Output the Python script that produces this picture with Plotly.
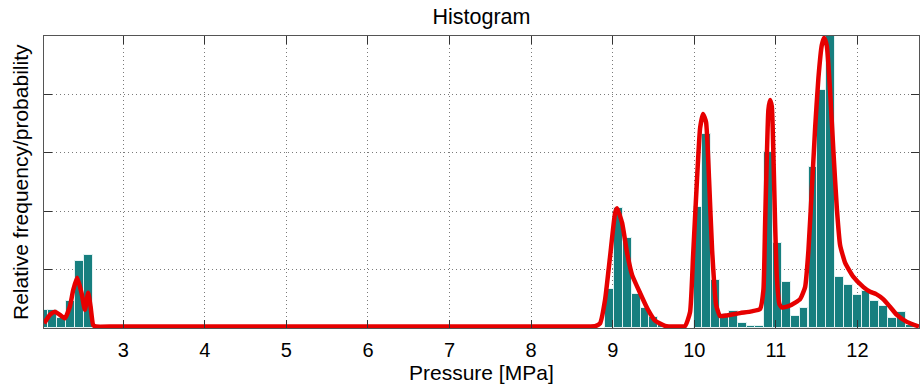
import plotly.graph_objects as go

# Histogram bins (non-empty bins only): bin centres in MPa and relative frequency
bin_centers_mpa = [2.029, 2.137, 2.246, 2.354, 2.462, 2.571,
                   8.962, 9.070, 9.179, 9.287, 9.395, 9.504, 9.612, 9.720, 9.829,
                   10.045, 10.154, 10.262, 10.370, 10.479, 10.587, 10.695, 10.804,
                   10.912, 11.020, 11.129, 11.237, 11.345, 11.454,
                   11.562, 11.670, 11.779, 11.887, 11.995, 12.104, 12.212, 12.320,
                   12.429, 12.537, 12.645, 12.754]
rel_freq = [0.0062, 0.0062, 0.0034, 0.0094, 0.0230, 0.0250,
            0.0134, 0.0410, 0.0308, 0.0118, 0.0070, 0.0036, 0.0012, 0.0006, 0.0004,
            0.0416, 0.0666, 0.0166, 0.0048, 0.0058, 0.0016, 0.0006, 0.0008,
            0.0604, 0.0290, 0.0156, 0.0040, 0.0068, 0.0552,
            0.0814, 0.1000, 0.0174, 0.0148, 0.0114, 0.0126, 0.0094, 0.0074,
            0.0034, 0.0056, 0.0010, 0.0006]
bin_width = 0.10833

# Estimated probability density (red curve)
density_x = [2.031, 2.101, 2.163, 2.224, 2.285, 2.346, 2.387, 2.436, 2.490, 2.530, 2.571, 2.600, 2.632, 2.665,
             2.900, 4.000, 6.000, 8.000, 8.600,
             8.722, 8.784, 8.845, 8.906, 8.967, 9.029, 9.053, 9.115, 9.176, 9.237, 9.335, 9.433, 9.519, 9.642, 9.764, 9.887,
             9.948, 9.985, 10.034, 10.071, 10.107, 10.144, 10.181, 10.218, 10.267, 10.316, 10.400, 10.561, 10.700, 10.806,
             10.847, 10.868, 10.889, 10.908, 10.929, 10.950, 10.970, 10.990, 11.011, 11.043, 11.076, 11.174,
             11.297, 11.358, 11.399, 11.440, 11.481, 11.521, 11.563, 11.591, 11.624, 11.665, 11.705, 11.747,
             11.787, 11.849, 11.950, 12.073, 12.155, 12.229, 12.315, 12.401, 12.483, 12.605, 12.754]
density_y = [0.0016, 0.0045, 0.0056, 0.0045, 0.0033, 0.0073, 0.0130, 0.0172, 0.0119, 0.0062, 0.0121, 0.0073, 0.0010, 0.0005,
             0.0005, 0.0005, 0.0005, 0.0005, 0.0005,
             0.0005, 0.0006, 0.0016, 0.0096, 0.0244, 0.0394, 0.0410, 0.0360, 0.0257, 0.0182, 0.0120, 0.0062, 0.0025, 0.0007, 0.0005, 0.0007,
             0.0055, 0.0247, 0.0514, 0.0685, 0.0733, 0.0705, 0.0507, 0.0267, 0.0079, 0.0041, 0.0043, 0.0051, 0.0057, 0.0065,
             0.0130, 0.0360, 0.0587, 0.0747, 0.0781, 0.0758, 0.0587, 0.0360, 0.0176, 0.0082, 0.0070, 0.0077,
             0.0099, 0.0140, 0.0267, 0.0473, 0.0685, 0.0856, 0.0969, 0.0994, 0.0966, 0.0809, 0.0604, 0.0410,
             0.0284, 0.0223, 0.0175, 0.0140, 0.0124, 0.0116, 0.0099, 0.0072, 0.0045, 0.0021, 0.0005]

x_ticks = [3, 4, 5, 6, 7, 8, 9, 10, 11, 12]

FONT = "Liberation Sans, Arial, sans-serif"

fig = go.Figure()
fig.add_trace(go.Bar(
    x=bin_centers_mpa, y=rel_freq, width=bin_width,
    marker=dict(color="#177f7f", line=dict(color="#e4f2f2", width=1)),
    showlegend=False, hoverinfo="x+y",
))
fig.add_trace(go.Scatter(
    x=density_x, y=density_y, mode="lines",
    line=dict(color="#e60000", width=4.5, shape="spline", smoothing=0.45),
    showlegend=False,
))

fig.update_layout(
    width=922, height=387,
    margin=dict(l=44, r=3, t=36, b=59),
    paper_bgcolor="white", plot_bgcolor="white",
    font=dict(family=FONT, size=20, color="black"),
    title=dict(text="Histogram", x=0.5, xref="paper", y=1 - 16 / 387, yref="container",
               xanchor="center", yanchor="middle", font=dict(family=FONT, size=21.5, color="black")),
    bargap=0,
    annotations=[
        dict(text="Pressure [MPa]", x=0.5, xref="paper", y=0, yref="paper",
             xanchor="center", yanchor="middle", yshift=-44, showarrow=False,
             font=dict(family=FONT, size=21, color="black")),
        dict(text="Relative frequency/probability", x=0, xref="paper", y=0.5, yref="paper",
             xanchor="center", yanchor="middle", xshift=-24, textangle=-90, showarrow=False,
             font=dict(family=FONT, size=21, color="black")),
    ],
)
fig.update_xaxes(
    range=[2.029, 12.754], tickvals=x_ticks, ticktext=[str(t) for t in x_ticks],
    ticks="inside", ticklen=8, tickcolor="#333333", tickwidth=1,
    showline=True, linecolor="#555555", linewidth=1, mirror="ticks",
    showgrid=True, gridcolor="#7a7a7a", griddash="1px,3px", gridwidth=1,
    zeroline=False, ticklabelstandoff=4,
    tickfont=dict(family=FONT, size=20, color="black"),
)
fig.update_yaxes(
    range=[0, 0.1], tick0=0, dtick=0.02, showticklabels=False,
    ticks="inside", ticklen=8, tickcolor="#333333", tickwidth=1,
    showline=True, linecolor="#555555", linewidth=1, mirror="ticks",
    showgrid=True, gridcolor="#7a7a7a", griddash="1px,3px", gridwidth=1,
    zeroline=False,
)

fig.write_html("out.html", config={"displayModeBar": False})

# remove the browser's default page margin so the 922x387 figure fills the window exactly
with open("out.html", "r", encoding="utf-8") as f:
    html = f.read()
html = html.replace("<head>", "<head><style>html,body{margin:0;padding:0;overflow:hidden;}</style>", 1)
with open("out.html", "w", encoding="utf-8") as f:
    f.write(html)
